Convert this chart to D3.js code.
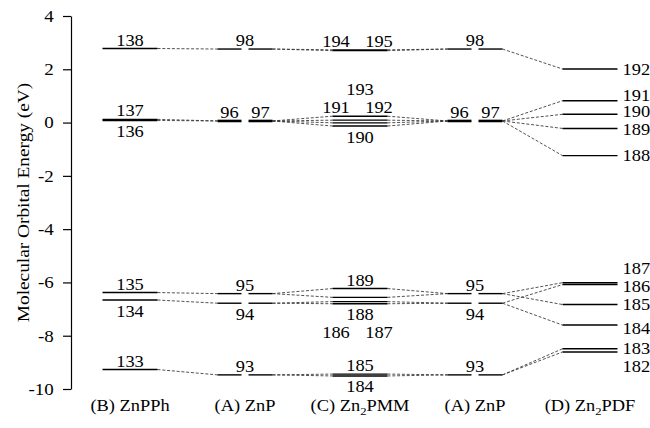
<!DOCTYPE html>
<html>
<head>
<meta charset="utf-8">
<script src="https://cdn.jsdelivr.net/npm/d3@7"></script>
<style>
  html, body { margin: 0; padding: 0; background: #fff; }
  svg { display: block; font-family: "Liberation Serif", "Times New Roman", serif; }
</style>
</head>
<body>
<svg id="chart" width="650" height="428"></svg>
<script>
// ---- Orbital energies (eV) for each molecule ----
const columnNames = ["(B) ZnPPh", "(A) ZnP", "(C) Zn₂PMM", "(A) ZnP", "(D) Zn₂PDF"];

const znpphMO = [138, 137, 136, 135, 134, 133];
const znpphE  = [2.78, 0.12, 0.08, -6.38, -6.66, -9.27];

const znpMO = [98, 97, 96, 95, 94, 93];
const znpE  = [2.76, 0.06, 0.06, -6.42, -6.78, -9.47];

const zn2pmmMO = [195, 194, 193, 192, 191, 190, 189, 188, 187, 186, 185, 184];
const zn2pmmE  = [2.73, 2.70, 0.24, 0.09, -0.01, -0.13, -6.23, -6.56, -6.72, -6.80, -9.44, -9.51];

const zn2pdfMO = [192, 191, 190, 189, 188, 187, 186, 185, 184, 183, 182];
const zn2pdfE  = [2.01, 0.82, 0.31, -0.22, -1.24, -6.01, -6.08, -6.83, -7.60, -8.49, -8.61];

const yTicks = [4, 2, 0, -2, -4, -6, -8, -10];

// Correlation lines between neighbouring columns: [left MO, right MO]
const linksBA = [[138, 98], [137, 96], [136, 96], [135, 95], [134, 94], [133, 93]];
const linksAC = [[98, 195], [98, 194], [97, 193], [97, 192], [97, 191], [97, 190],
                 [95, 189], [95, 188], [94, 187], [94, 186], [93, 185], [93, 184]];
const linksCA = [[195, 98], [194, 98], [193, 96], [192, 96], [191, 96], [190, 96],
                 [189, 95], [188, 95], [187, 94], [186, 94], [185, 93], [184, 93]];
const linksAD = [[98, 192], [97, 191], [97, 190], [97, 189], [97, 188],
                 [95, 187], [94, 186], [95, 185], [94, 184], [93, 183], [93, 182]];

// ---- Build per-column level tables ----
function levels(mo, e) { return mo.map((m, i) => ({ mo: m, e: e[i] })); }
const columns = [
  { lv: levels(znpphMO, znpphE),   split: false },
  { lv: levels(znpMO, znpE),       split: true  },
  { lv: levels(zn2pmmMO, zn2pmmE), split: false },
  { lv: levels(znpMO, znpE),       split: true  },
  { lv: levels(zn2pdfMO, zn2pdfE), split: false }
];
const gapLinks = [linksBA, linksAC, linksCA, linksAD];

// ---- Scales ----
const svg = d3.select("#chart");
const y = d3.scaleLinear().domain([-10, 4]).range([389, 16]);
const x = d3.scalePoint().domain(d3.range(columns.length)).range([130, 590]);
const halfW = 27.5;   // half length of a level line
const splitGap = 3.5; // half gap in split (ZnP) levels
const stretch = 1.15; // horizontal stretch of the serif lettering
const fs = 16;

function eOf(col, mo) { return columns[col].lv.find(d => d.mo === mo).e; }

// ---- Axis ----
const axis = d3.axisLeft(y)
  .tickValues(yTicks)
  .tickSize(8)
  .tickSizeOuter(0)
  .tickPadding(7)
  .tickFormat(d => String(d));
const gAxis = svg.append("g").attr("transform", "translate(71,0)").call(axis);
gAxis.select(".domain").attr("stroke", "#000").attr("stroke-width", 1.2);
gAxis.selectAll(".tick line").attr("stroke", "#000").attr("stroke-width", 1.2);
gAxis.selectAll(".tick text")
  .attr("font-family", "Liberation Serif")
  .attr("font-size", 16.5)
  .attr("fill", "#000")
  .attr("transform", `scale(${stretch},1)`);

svg.append("text")
  .attr("transform", `translate(29,${(y(4) + y(-10)) / 2}) rotate(-90) scale(${stretch},1)`)
  .attr("text-anchor", "middle")
  .attr("font-size", 16.8)
  .text("Molecular Orbital Energy (eV)");

// ---- Correlation (dashed) lines ----
const gLinks = svg.append("g")
  .attr("stroke", "#333")
  .attr("stroke-width", 0.85)
  .attr("stroke-dasharray", "3,1.8")
  .attr("fill", "none");
gapLinks.forEach((links, gi) => {
  gLinks.selectAll(null)
    .data(links)
    .join("line")
    .attr("x1", x(gi) + halfW)
    .attr("x2", x(gi + 1) - halfW)
    .attr("y1", d => y(eOf(gi, d[0])))
    .attr("y2", d => y(eOf(gi + 1, d[1])));
});

// ---- Level lines ----
const gLevels = svg.append("g").attr("stroke", "#000");
columns.forEach((col, ci) => {
  const c = x(ci);
  const groups = d3.groups(col.lv, d => d.e);
  groups.forEach(([e, members]) => {
    const yy = y(e);
    const w = members.length > 1 ? 2.6 : 1.4;
    const segs = col.split
      ? [[c - halfW, c - splitGap], [c + splitGap, c + halfW]]
      : [[c - halfW, c + halfW]];
    segs.forEach(s => {
      gLevels.append("line")
        .attr("x1", s[0]).attr("x2", s[1])
        .attr("y1", yy).attr("y2", yy)
        .attr("stroke-width", w);
    });
  });
});

// ---- Orbital number labels ----
const gLab = svg.append("g").attr("font-size", fs).attr("fill", "#000");
function label(txt, px, py, anchor) {
  gLab.append("text")
    .attr("transform", `translate(${px},${py}) scale(${stretch},1)`)
    .attr("text-anchor", anchor || "middle")
    .text(txt);
}
// side: "a" above / "b" below; h: horizontal offset key; row: stacking row
const hOff = { c: 0, l: -24, r: 19, hl: -(splitGap + 12), hr: splitGap + 12 };
function place(ci, mo, refMO, side, h, row) {
  const yy = y(eOf(ci, refMO));
  const r = (row || 1) - 1;
  const py = side === "a" ? yy - 3 - r * 18 : yy + 16.5 + r * 18;
  label(String(mo), x(ci) + hOff[h], py);
}
// ZnPPh
place(0, 138, 138, "a", "c");
place(0, 137, 137, "a", "c");
place(0, 136, 136, "b", "c");
place(0, 135, 135, "a", "c");
place(0, 134, 134, "b", "c");
place(0, 133, 133, "a", "c");
// ZnP (both copies)
[1, 3].forEach(ci => {
  place(ci, 98, 98, "a", "c");
  place(ci, 96, 96, "a", "hl");
  place(ci, 97, 97, "a", "hr");
  place(ci, 95, 95, "a", "c");
  place(ci, 94, 94, "b", "c");
  place(ci, 93, 93, "a", "c");
});
// Zn2PMM
place(2, 194, 195, "a", "l");
place(2, 195, 195, "a", "r");
place(2, 193, 193, "a", "c", 2);
place(2, 191, 193, "a", "l");
place(2, 192, 193, "a", "r");
place(2, 190, 190, "b", "c");
place(2, 189, 189, "a", "c");
place(2, 188, 186, "b", "c");
place(2, 186, 186, "b", "l", 2);
place(2, 187, 186, "b", "r", 2);
place(2, 185, 185, "a", "c");
place(2, 184, 184, "b", "c");
// Zn2PDF: labels to the right of the levels, nudged apart where crowded
const nudge = { 191: -5, 190: -2.5, 189: 1.5, 187: -14.5, 186: 1.5, 184: 3, 182: 15 };
columns[4].lv.forEach(d => {
  label(String(d.mo), x(4) + halfW + 5, y(d.e) + (nudge[d.mo] || 0) + 5.5, "start");
});

// ---- Column names ----
columnNames.forEach((name, i) => {
  const t = svg.append("text")
    .attr("transform", `translate(${x(i)},411) scale(${stretch},1)`)
    .attr("text-anchor", "middle")
    .attr("font-size", fs);
  const parts = name.split("₂");
  parts.forEach((p, k) => {
    t.append("tspan").attr("dy", k > 0 ? -3.5 : 0).text(p);
    if (k < parts.length - 1) {
      t.append("tspan").attr("font-size", 11).attr("dy", 3.5).text("2");
    }
  });
});
</script>
</body>
</html>
